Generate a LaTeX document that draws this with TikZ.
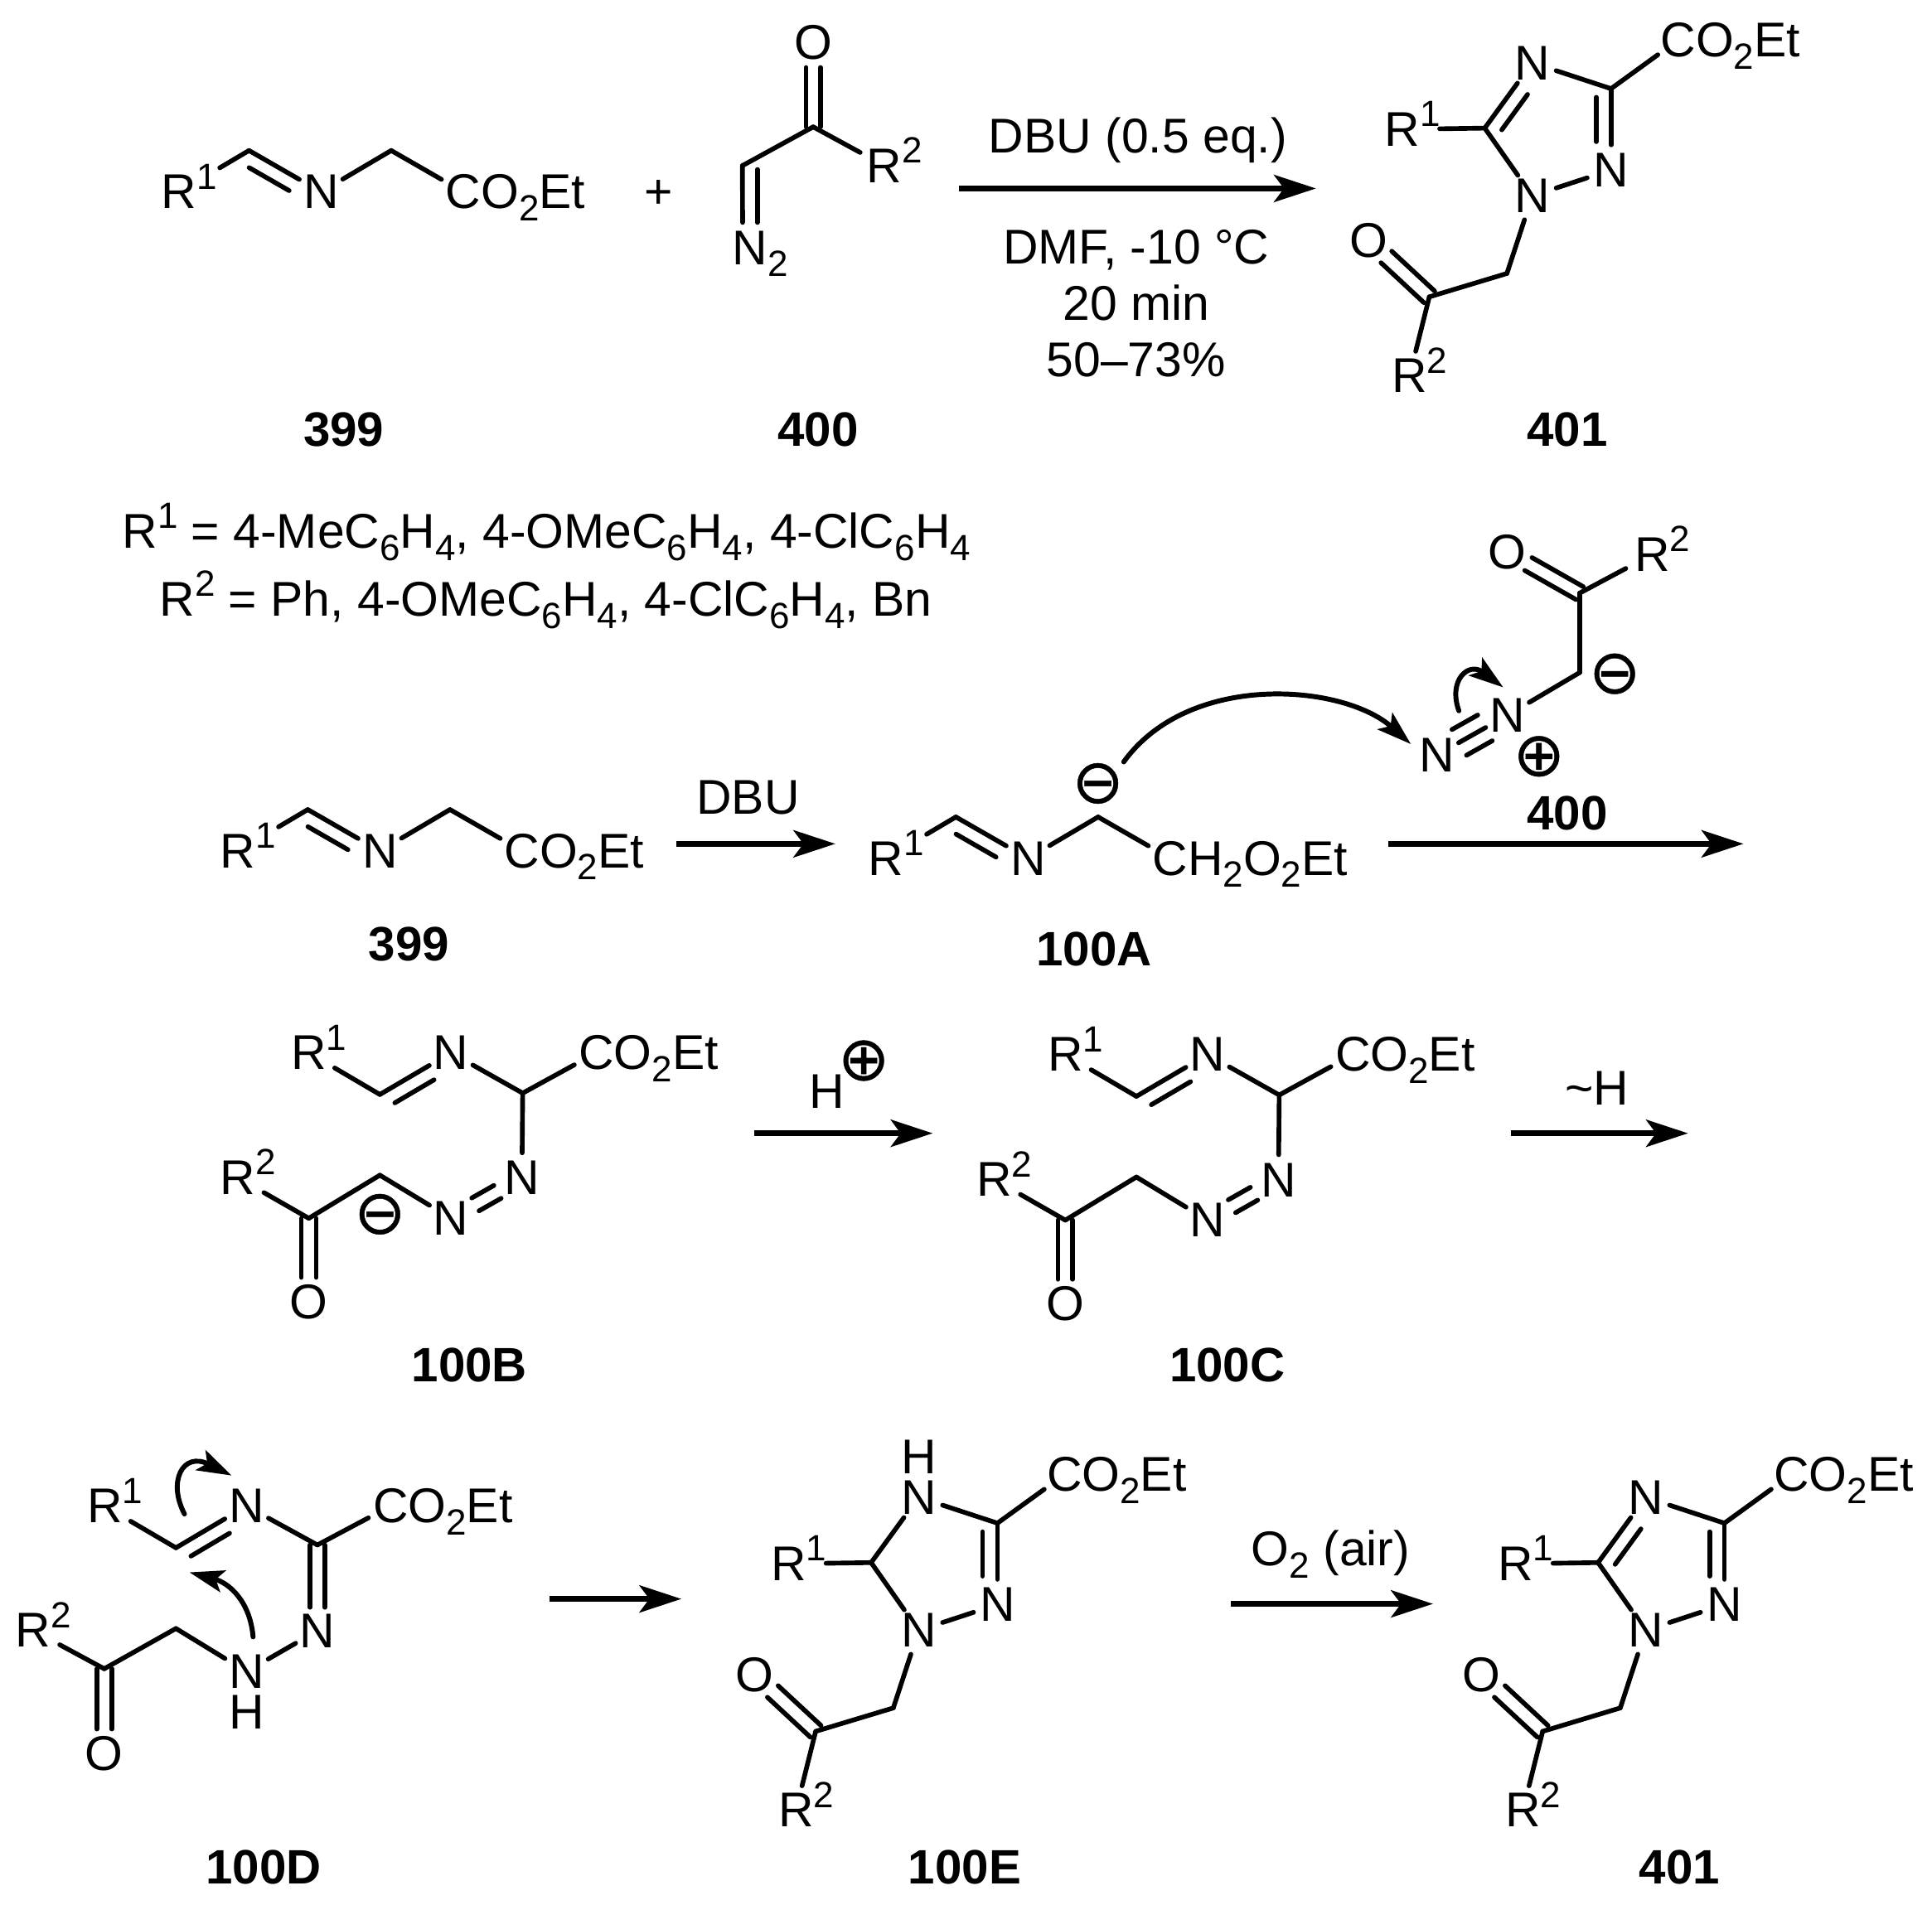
\documentclass[tikz,border=0pt]{standalone}
\usepackage{fontspec}
\setmainfont{Liberation Sans}
\newfontfamily\symfont[FakeBold=0.6]{DejaVu Sans}
\usetikzlibrary{arrows.meta,calc}

\newcommand{\subs}[1]{\raisebox{-0.25em}{\fontsize{14.8}{14.8}\selectfont #1}}
\newcommand{\sups}[1]{\raisebox{0.40em}{\fontsize{14.8}{14.8}\selectfont #1}}
\newcommand{\tailtxt}[1]{\rlap{\smash{#1}}}
\newcommand{\dbl}[2]{%
  \draw [bond] (#1) -- (#2);
  \draw [bond, shorten <=3.5pt, shorten >=11.5pt] ($(#1)!6pt!-90:(#2)$) -- ($(#2)!6pt!90:(#1)$);}
\newcommand{\dblc}[5]{%
  \draw [bond, shorten <=#4, shorten >=#5] ($(#1)!#3!90:(#2)$) -- ($(#2)!#3!-90:(#1)$);
  \draw [bond, shorten <=#4, shorten >=#5] ($(#1)!#3!-90:(#2)$) -- ($(#2)!#3!90:(#1)$);}
% imine with the ester arm, drawn at the place of the first row
\newcommand{\imineester}[1]{%
  \node [rsub] (r1) at (145.3,155.8) {R\tailtxt{\sups{1}}};
  \coordinate (c1) at (202.1,122.2);
  \node [atom] (n1) at (260.6,155.8) {N};
  \coordinate (c2) at (317.5,122.2);
  \node [atom] (est) at (376,155.8) {C\tailtxt{#1}};
  \draw [bond, shorten >=7pt] (c1) -- (r1);
  \dbl{c1}{n1}
  \draw [bond] (n1) -- (c2);
  \draw [bond] (c2) -- (est);}
% azo compound of the third row
\newcommand{\azochain}{%
  \node [rsub] (r1) at (250.6,854.6) {R\tailtxt{\sups{1}}};
  \coordinate (c1) at (308.3,888.5);
  \node [atom] (n1) at (366,854.6) {N};
  \coordinate (c2) at (424.2,887.4);
  \node [atom] (est) at (484,854.6) {C\tailtxt{O\subs{2}Et}};
  \node [atom] (n2) at (423.6,956.3) {N};
  \node [atom] (n3) at (366,989) {N};
  \coordinate (c3) at (308.3,954);
  \coordinate (c4) at (250.6,989);
  \node [rsub] (r2) at (193,956) {R\tailtxt{\sups{2}}};
  \node [atom] (o1) at (250.6,1057) {O};
  \draw [bond] (r1) -- (c1);
  \dbl{c1}{n1}
  \draw [bond] (n1) -- (c2);
  \draw [bond] (c2) -- (est);
  \draw [bond] (c2) -- (n2);
  \dblc{n2}{n3}{3pt}{11.4pt}{11.4pt}
  \draw [bond] (n3) -- (c3);
  \draw [bond] (c3) -- (c4);
  \draw [bond] (c4) -- (r2);
  \dblc{c4}{o1}{3pt}{0pt}{10pt}}
% ring with its side chains, all but the bond C5-N4
\newcommand{\triazolecore}{%
  \node [atom] (n4) at (1243.6,51) {N};
  \coordinate (c3) at (1307.5,72);
  \node [atom] (n2) at (1307.5,138) {N};
  \node [atom] (n1) at (1243.6,159) {N};
  \coordinate (c5) at (1205,104);
  \node [rsub] (r1) at (1138,105) {R\tailtxt{\sups{1}}};
  \node [atom] (est) at (1362,32.5) {C\tailtxt{O\subs{2}Et}};
  \coordinate (ch2) at (1223,222);
  \coordinate (cco) at (1160,241);
  \node [atom] (o1) at (1110.5,195) {O};
  \node [rsub] (r2) at (1144,305) {R\tailtxt{\sups{2}}};
  \draw [bond] (n4) -- (c3);
  \draw [bond] (c3) -- (est);
  \dbl{c3}{n2}
  \draw [bond] (n2) -- (n1);
  \draw [bond] (n1) -- (c5);
  \draw [bond, shorten >=3pt] (c5) -- (r1);
  \draw [bond] (n1) -- (ch2);
  \draw [bond] (ch2) -- (cco);
  \dblc{cco}{o1}{3.2pt}{0pt}{10pt}
  \draw [bond, shorten >=-2pt] (cco) -- (r2);}

\begin{document}
\begin{tikzpicture}[x=0.5pt, y=-0.5pt]
    % Styles
    \tikzstyle{atom} = [circle, inner sep=0pt, minimum size=20pt, font=\fontsize{19.8}{23}\selectfont]
    \tikzstyle{rsub} = [atom, minimum size=24pt]
    \tikzstyle{hyd} = [inner sep=0pt, font=\fontsize{19.8}{23}\selectfont]
    \tikzstyle{txt} = [inner sep=0pt, anchor=base, font=\fontsize{19.8}{23}\selectfont]
    \tikzstyle{cmpd} = [txt, font=\fontsize{19.6}{23}\selectfont\bfseries]
    \tikzstyle{chg} = [inner sep=0pt, font=\symfont\fontsize{25}{25}\selectfont]
    \tikzstyle{bond} = [draw, line width=1.9pt, line cap=round, line join=round]
    \tikzstyle{rxn} = [draw, line width=2.3pt, -{Stealth[length=17pt, width=11pt, inset=4pt]}]
    \tikzstyle{push} = [draw, line width=2pt, line cap=round, -{Stealth[length=14pt, width=9pt, inset=3pt]}]

    \useasboundingbox (0,0) rectangle (1568,1546);

    % First row
    \begin{scope}[name prefix=a-]
        \imineester{O\subs{2}Et}
    \end{scope}
    \node [txt] (plus) at (534.5,169) {+};
    \node [atom] (dko) at (660,34.8) {O};
    \coordinate (dkc) at (660,103);
    \node [rsub] (dkr) at (717.8,134.5) {R\tailtxt{\sups{2}}};
    \coordinate (dkh) at (602.5,134.5);
    \node [atom] (dkn) at (608.7,201) {N\tailtxt{\subs{2}}};
    \dblc{dkc}{dko}{2.9pt}{0pt}{10pt}
    \draw [bond, shorten >=-1pt] (dkc) -- (dkr);
    \draw [bond] (dkc) -- (dkh);
    \draw [bond] (dkh) -- ([xshift=-3pt]dkn.north);
    \draw [bond] ([xshift=3pt]dkn.north) -- ++(0,-43);
    \coordinate (a1s) at (778,153);
    \coordinate (a1e) at (1068,153);
    \path [rxn] (a1s) -- (a1e);
    \node [txt] (cond1) at (923.5,124) {DBU (0.5 eq.)};
    \node [txt] (cond2) at (922,214) {DMF, -10 °C};
    \node [txt] (cond3) at (922,260) {20 min};
    \node [txt] (cond4) at (922,306) {50–73\%};
    \begin{scope}[name prefix=b-]
        \triazolecore
        \dbl{c5}{n4}
    \end{scope}
    \node [cmpd] (lab399) at (279,362) {399};
    \node [cmpd] (lab400) at (664,362) {400};
    \node [cmpd] (lab401) at (1272,362) {401};

    % Substituents
    \node [txt] (subst1) at (443.5,445) {R\sups{1} = 4-MeC\subs{6}H\subs{4}, 4-OMeC\subs{6}H\subs{4}, 4-ClC\subs{6}H\subs{4}};
    \node [txt] (subst2) at (443,500) {R\sups{2} = Ph, 4-OMeC\subs{6}H\subs{4}, 4-ClC\subs{6}H\subs{4}, Bn};

    % Second row
    \begin{scope}[shift={(47.7,535)}, name prefix=c-]
        \imineester{O\subs{2}Et}
    \end{scope}
    \node [cmpd] (labm399) at (332,780) {399};
    \coordinate (a2s) at (549,685);
    \coordinate (a2e) at (678,685);
    \path [rxn] (a2s) -- (a2e);
    \node [txt] (base) at (607,661) {DBU};
    \begin{scope}[shift={(573.7,541)}, name prefix=d-]
        \imineester{H\subs{2}O\subs{2}Et}
    \end{scope}
    \node [chg] (minusa) at (891,636) {⊖};
    \node [cmpd] (lab100a) at (888,784) {100A};
    \node [atom] (zo) at (1223,448) {O};
    \coordinate (zc) at (1282,481.5);
    \node [rsub] (zr) at (1341,450) {R\tailtxt{\sups{2}}};
    \coordinate (zh) at (1282,546);
    \node [atom] (zn) at (1223.5,580.6) {N};
    \node [atom] (zt) at (1166,613) {N};
    \node [chg] (minusz) at (1310.5,547) {⊖};
    \node [chg] (plusz) at (1249,614) {⊕};
    \dblc{zc}{zo}{3pt}{0pt}{10pt}
    \draw [bond] (zc) -- (zr);
    \draw [bond] (zc) -- (zh);
    \draw [bond] (zh) -- (zn);
    \draw [bond] (zn) -- (zt);
    \dblc{zn}{zt}{6pt}{10.5pt}{10.5pt}
    \coordinate (p1s) at (912,618.5);
    \coordinate (p1e) at (1145,604);
    \path [push] (p1s) .. controls (965,545) and (1090,555) .. (p1e);
    \coordinate (p2s) at (1184,577);
    \coordinate (p2e) at (1220,558);
    \path [push] (p2s) .. controls (1175,552) and (1192,537) .. (p2e);
    \coordinate (a3s) at (1127,685);
    \coordinate (a3e) at (1415,685);
    \path [rxn] (a3s) -- (a3e);
    \node [cmpd] (labz400) at (1272,674) {400};

    % Third row
    \begin{scope}[name prefix=e-]
        \azochain
    \end{scope}
    \node [chg] (minusb) at (308.3,985.7) {⊖};
    \node [cmpd] (lab100b) at (381,1122) {100B};
    \coordinate (a4s) at (612,920);
    \coordinate (a4e) at (757,920);
    \path [rxn] (a4s) -- (a4e);
    \node [txt] (proton) at (671,900) {H};
    \node [chg] (plusp) at (701,861) {⊕};
    \begin{scope}[shift={(614,1.5)}, name prefix=f-]
        \azochain
    \end{scope}
    \node [cmpd] (lab100c) at (996,1122) {100C};
    \coordinate (a5s) at (1226,920);
    \coordinate (a5e) at (1370,920);
    \path [rxn] (a5s) -- (a5e);
    \node [txt] (shift) at (1296,897) {\textasciitilde H};

    % Fourth row
    \node [rsub] (hr1) at (85,1222.6) {R\tailtxt{\sups{1}}};
    \coordinate (hc1) at (142.8,1256.5);
    \node [atom] (hn1) at (200,1222.6) {N};
    \coordinate (hc2) at (257.6,1254.2);
    \node [atom] (hest) at (317,1222.6) {C\tailtxt{O\subs{2}Et}};
    \node [atom] (hn2) at (257.6,1323.8) {N};
    \node [atom] (hn3) at (200,1357) {N};
    \node [hyd] (hh) at (200,1390) {H};
    \coordinate (hc3) at (142.8,1322);
    \coordinate (hc4) at (84.6,1354.7);
    \node [rsub] (hr2) at (27,1323.6) {R\tailtxt{\sups{2}}};
    \node [atom] (ho) at (84.6,1423.6) {O};
    \draw [bond] (hr1) -- (hc1);
    \dbl{hc1}{hn1}
    \draw [bond] (hn1) -- (hc2);
    \draw [bond] (hc2) -- (hest);
    \dblc{hc2}{hn2}{3pt}{0pt}{9.5pt}
    \draw [bond] (hn2) -- (hn3);
    \draw [bond] (hn3) -- (hc3);
    \draw [bond] (hc3) -- (hc4);
    \draw [bond] (hc4) -- (hr2);
    \dblc{hc4}{ho}{3pt}{0pt}{10pt}
    \coordinate (p3s) at (149.7,1229);
    \coordinate (p3e) at (188,1197.8);
    \path [push] (p3s) .. controls (136,1203) and (148,1178) .. (p3e);
    \coordinate (p4s) at (205.4,1328.8);
    \coordinate (p4e) at (153.8,1276.4);
    \path [push] (p4s) .. controls (203,1300) and (186,1285) .. (p4e);
    \node [cmpd] (lab100d) at (214,1529) {100D};
    \coordinate (a6s) at (446,1298);
    \coordinate (a6e) at (553,1298);
    \path [rxn] (a6s) -- (a6e);
    \begin{scope}[shift={(-498,1164.5)}, name prefix=g-]
        \triazolecore
        \node [hyd] (h4) at (1243.6,18) {H};
        \draw [bond] (c5) -- (n4);
    \end{scope}
    \node [cmpd] (lab100e) at (783,1529) {100E};
    \coordinate (a7s) at (999,1302);
    \coordinate (a7e) at (1163,1302);
    \path [rxn] (a7s) -- (a7e);
    \node [txt] (oxygen) at (1080,1271) {O\subs{2} (air)};
    \begin{scope}[shift={(92,1164.5)}, name prefix=i-]
        \triazolecore
        \dbl{c5}{n4}
    \end{scope}
    \node [cmpd] (labb401) at (1363,1529) {401};
\end{tikzpicture}
\end{document}
